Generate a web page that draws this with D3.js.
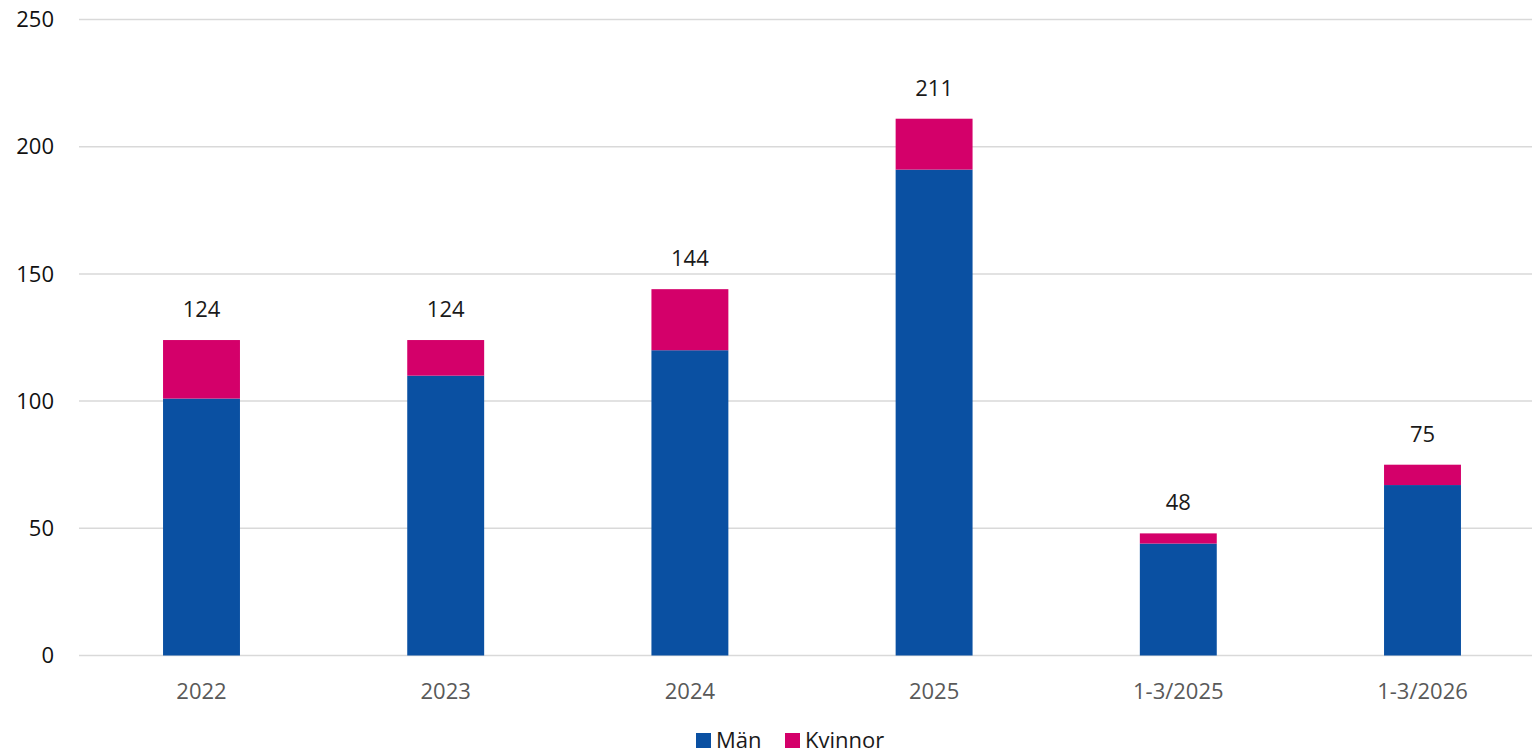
<!DOCTYPE html>
<html>
<head>
<meta charset="utf-8">
<script src="https://cdn.jsdelivr.net/npm/d3@7"></script>
<style>
  html, body { margin: 0; padding: 0; background: #fff; }
  svg { display: block; font-family: "Open Sans", "Noto Sans", sans-serif; }
</style>
</head>
<body>
<svg id="chart" width="1532" height="756"></svg>
<script>
const categories = ["2022", "2023", "2024", "2025", "1-3/2025", "1-3/2026"];
const man = [101, 110, 120, 191, 44, 67];
const kvinnor = [23, 14, 24, 20, 4, 8];
const totals = [124, 124, 144, 211, 48, 75];
const yTicks = [0, 50, 100, 150, 200, 250];
const seriesNames = ["Män", "Kvinnor"];
const colors = ["#0A50A2", "#D4006A"];

const W = 1532, H = 756;
const svg = d3.select("#chart");

const x = d3.scaleBand().domain(categories).range([79.4, 1544.6]).padding(0);
const y = d3.scaleLinear().domain([0, 250]).range([655.5, 19.5]);
const barW = x.bandwidth() * 0.315;

// gridlines
svg.append("g").selectAll("line").data(yTicks).join("line")
  .attr("x1", 79).attr("x2", W)
  .attr("y1", d => y(d)).attr("y2", d => y(d))
  .attr("stroke", "#D9D9D9").attr("stroke-width", 1.5);

// y tick labels
svg.append("g").selectAll("text").data(yTicks).join("text")
  .attr("x", 54).attr("y", d => y(d))
  .attr("dy", "0.35em").attr("text-anchor", "end")
  .attr("font-size", 22).attr("fill", "#111")
  .text(d => d);

// stacked data
const rows = categories.map((c, i) => ({ cat: c, "Män": man[i], "Kvinnor": kvinnor[i] }));
const stack = d3.stack().keys(seriesNames)(rows);

svg.append("g").selectAll("g").data(stack).join("g")
  .attr("fill", (d, i) => colors[i])
  .selectAll("rect").data(d => d).join("rect")
  .attr("x", d => x(d.data.cat) + (x.bandwidth() - barW) / 2)
  .attr("width", barW)
  .attr("y", d => y(d[1]))
  .attr("height", d => y(d[0]) - y(d[1]));

// total labels
svg.append("g").selectAll("text").data(categories).join("text")
  .attr("x", d => x(d) + x.bandwidth() / 2)
  .attr("y", (d, i) => y(totals[i]) - 23)
  .attr("text-anchor", "middle")
  .attr("font-size", 22).attr("fill", "#1a1a1a")
  .text((d, i) => totals[i]);

// x labels
svg.append("g").selectAll("text").data(categories).join("text")
  .attr("x", d => x(d) + x.bandwidth() / 2)
  .attr("y", 699)
  .attr("text-anchor", "middle")
  .attr("font-size", 22).attr("fill", "#595959")
  .text(d => d);

// legend
const legend = svg.append("g");
const lx = [696, 785];
seriesNames.forEach((n, i) => {
  legend.append("rect").attr("x", lx[i]).attr("y", 733).attr("width", 15).attr("height", 15).attr("fill", colors[i]);
  legend.append("text").attr("x", lx[i] + 20).attr("y", 748)
    .attr("font-size", 22).attr("fill", "#1a1a1a").text(n);
});
</script>
</body>
</html>
